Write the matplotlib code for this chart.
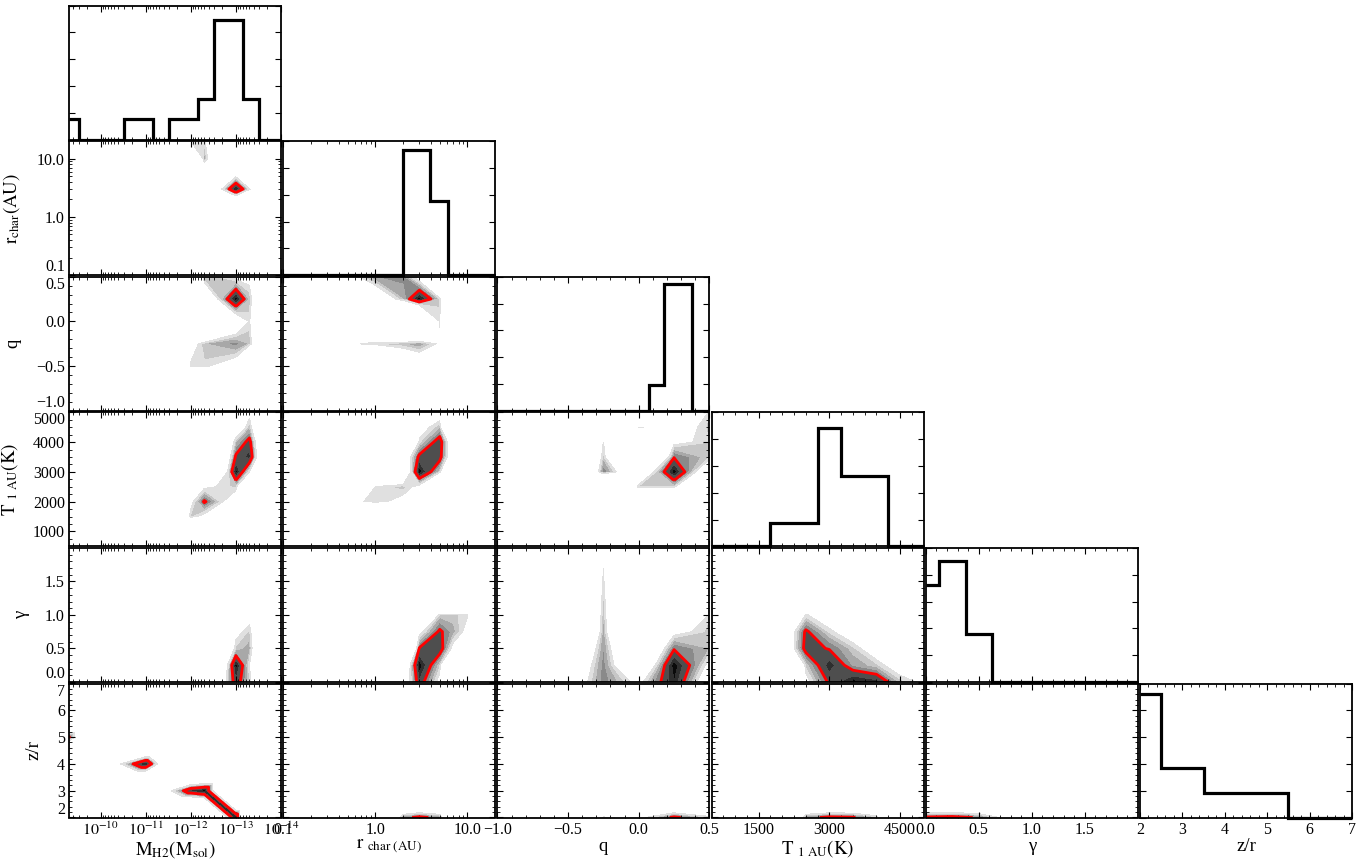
import numpy as np
import matplotlib.pyplot as plt
from matplotlib.tri import Triangulation

plt.rcParams['font.family'] = 'serif'
plt.rcParams['font.serif'] = ['Liberation Serif', 'DejaVu Serif']
plt.rcParams['mathtext.fontset'] = 'stix'

# grid nodes of the model fit, one list per parameter
mass_nodes = [1e-14, 5e-14, 1e-13, 5e-13, 1e-12, 5e-12, 1e-11, 5e-11, 1e-10, 5e-10]
rchar_nodes = [0.1, 0.3, 0.5, 0.7, 1.0, 2.0, 3.0, 5.0, 7.0, 10.0, 20.0]
q_nodes = [-1.0, -0.75, -0.5, -0.25, 0.0, 0.25, 0.5]
temp_nodes = [500, 1000, 1500, 2000, 2500, 3000, 3500, 4000, 4500, 5000]
gamma_nodes = [0.0, 0.25, 0.5, 0.75, 1.0, 1.25, 1.5, 1.75, 2.0]
zr_nodes = [2, 3, 4, 5, 6, 7]

# marginal histograms (bin edges, heights as fraction of the panel)
mass_edges = [5e-10, 3e-10, 3e-11, 7e-12, 3e-12, 7e-13, 3e-13, 7e-14, 3e-14, 1e-14]
mass_hist = [0.15, 0.0, 0.15, 0.0, 0.15, 0.30, 0.89, 0.30, 0.0]
rchar_edges = [0.1, 2.0, 3.9, 6.2, 20.0]
rchar_hist = [0.0, 0.93, 0.556, 0.0]
q_edges = [-1.0, 0.07, 0.18, 0.38, 0.5]
q_hist = [0.0, 0.195, 0.947, 0.0]
temp_edges = [500, 1750, 2750, 3250, 4250, 5000]
temp_hist = [0.0, 0.175, 0.88, 0.526, 0.0]
gamma_edges = [0.0, 0.125, 0.375, 0.625, 2.0]
gamma_hist = [0.72, 0.90, 0.36, 0.0]
zr_edges = [2, 2.5, 3.5, 5.5, 7]
zr_hist = [0.92, 0.366, 0.184, 0.0]

# delta chi^2 at grid nodes of each pair (x node, y node, value); all other nodes are FAR
FAR = 30.0
rchar_vs_mass = [(1e-13, 3.0, 0.0), (5e-13, 3.0, 18.0), (5e-14, 3.0, 7.5), (1e-13, 5.0, 8.5),
                 (1e-13, 2.0, 12.0), (5e-13, 10.0, 5.5), (5e-13, 20.0, 7.5), (1e-12, 20.0, 7.8),
                 (5e-13, 7.0, 12.0)]
q_vs_mass = [(1e-13, 0.25, 0.0), (5e-13, 0.25, 14.0), (5e-14, 0.25, 6.5), (1e-13, 0.5, 9.0),
             (5e-13, 0.5, 6.0), (1e-13, 0.0, 12.0), (5e-14, 0.0, 7.8), (5e-14, 0.5, 9.0),
             (1e-13, -0.25, 5.0), (5e-13, -0.25, 6.5), (5e-14, -0.25, 6.5), (1e-12, -0.5, 7.5),
             (5e-13, -0.5, 7.6), (1e-12, -0.25, 10.0), (1e-13, -0.5, 10.0)]
temp_vs_mass = [(1e-13, 3000, 0.0), (5e-14, 3500, 1.5), (5e-14, 4000, 3.0), (1e-13, 3500, 3.5),
                (5e-14, 3000, 8.0), (1e-13, 4000, 6.5), (5e-14, 4500, 6.5), (1e-13, 4500, 12.0),
                (5e-14, 5000, 9.0), (1e-13, 2500, 7.0), (5e-13, 2500, 8.6), (1e-13, 2000, 11.0),
                (5e-13, 2000, 3.6), (1e-12, 2000, 9.0), (5e-13, 1500, 9.0), (1e-12, 1500, 7.0)]
gamma_vs_mass = [(1e-13, 0.25, 0.0), (1e-13, 0.0, 2.5), (1e-13, 0.5, 7.0), (1e-13, 0.75, 9.0),
                 (5e-14, 0.25, 8.0), (5e-14, 0.5, 6.0), (5e-14, 0.75, 7.0), (5e-14, 1.0, 9.5),
                 (5e-14, 0.0, 7.0), (5e-13, 0.0, 20.0)]
zr_vs_mass = [(5e-10, 5, 3.7), (1e-11, 4, 0.0), (5e-12, 4, 9.0), (5e-11, 4, 10.0),
              (1e-12, 3, 1.5), (5e-12, 3, 12.0), (5e-13, 3, 0.0), (1e-13, 2, 0.0)]
zr_vs_mass_links = [(1e-13, 2)]  # cells whose rising diagonal joins the minima
q_vs_rchar = [(3.0, 0.25, 0.0), (2.0, 0.25, 6.5), (5.0, 0.25, 7.0), (3.0, 0.5, 10.0),
              (2.0, 0.5, 5.0), (1.0, 0.5, 5.5), (0.7, 0.5, 7.0), (0.5, 0.5, 9.0),
              (1.0, 0.25, 12.0), (5.0, 0.0, 7.8), (3.0, -0.25, 5.5), (2.0, -0.25, 6.5),
              (1.0, -0.25, 7.0), (0.7, -0.25, 7.6), (5.0, -0.25, 8.5), (3.0, -0.5, 12.0),
              (2.0, -0.5, 14.0)]
temp_vs_rchar = [(3.0, 3000, 0.0), (3.0, 3500, 3.3), (5.0, 3500, 3.0), (5.0, 4000, 2.5),
                 (5.0, 4500, 6.5), (5.0, 3000, 7.0), (3.0, 2500, 9.0), (2.0, 3000, 15.0),
                 (3.0, 4000, 7.5), (2.0, 3500, 12.0), (7.0, 4000, 12.0), (7.0, 3500, 12.0),
                 (5.0, 5000, 10.0), (3.0, 4500, 9.5), (2.0, 2500, 6.8), (1.0, 2000, 7.2),
                 (1.0, 2500, 7.8), (2.0, 2000, 9.0), (0.7, 2000, 8.2)]
gamma_vs_rchar = [(3.0, 0.25, 0.0), (3.0, 0.0, 2.5), (3.0, 0.5, 3.8), (5.0, 0.5, 2.5),
                  (5.0, 0.75, 3.5), (5.0, 0.25, 7.0), (2.0, 0.25, 14.0), (2.0, 0.0, 12.0),
                  (5.0, 1.0, 7.0), (7.0, 0.75, 6.0), (7.0, 1.0, 7.0), (10.0, 1.0, 7.8),
                  (3.0, 0.75, 9.0), (5.0, 0.0, 9.0), (7.0, 0.5, 9.0), (10.0, 0.75, 9.0)]
zr_vs_rchar = [(3.0, 2, 3.2), (2.0, 2, 5.0), (5.0, 2, 5.0)]
temp_vs_q = [(0.25, 3000, 0.0), (0.25, 3500, 4.2), (0.25, 2500, 7.0), (0.0, 3000, 14.0),
             (0.5, 3000, 13.0), (0.0, 2500, 7.0), (0.5, 3500, 7.2), (0.5, 4000, 7.3),
             (0.5, 4500, 7.0), (0.5, 5000, 7.2), (0.25, 4000, 8.8), (0.25, 4500, 10.0),
             (-0.25, 3000, 4.5), (-0.25, 3500, 6.8), (-0.25, 4000, 7.9), (0.0, 4500, 7.7)]
gamma_vs_q = [(-0.25, 0.0, 4.8), (-0.25, 0.25, 5.0), (-0.25, 0.5, 5.4), (-0.25, 0.75, 5.8),
              (-0.25, 1.0, 6.4), (-0.25, 1.25, 7.0), (-0.25, 1.5, 7.6), (-0.25, 1.75, 8.1),
              (-0.5, 0.0, 12.0), (-0.5, 0.25, 14.0), (-0.5, 0.5, 18.0), (0.0, 0.5, 18.0),
              (0.0, 0.0, 9.0), (0.25, 0.25, 0.0), (0.25, 0.0, 1.0), (0.25, 0.5, 4.3),
              (0.0, 0.25, 15.0), (0.5, 0.25, 9.0), (0.5, 0.0, 12.0), (0.5, 0.5, 6.5),
              (0.5, 0.75, 7.0), (0.5, 1.0, 7.4), (0.5, 1.25, 7.6), (0.5, 1.5, 7.8),
              (0.25, 0.75, 9.0)]
zr_vs_q = [(-0.25, 2, 7.5), (0.0, 2, 9.0), (0.25, 2, 3.3), (0.5, 2, 7.0)]
gamma_vs_temp = [(2500, 0.75, 3.5), (2500, 0.5, 3.0), (2500, 0.25, 7.0), (2500, 0.0, 9.0),
                 (2500, 1.0, 7.8), (2000, 0.75, 13.0), (2000, 0.5, 13.0), (3000, 0.0, 3.5),
                 (3000, 0.25, 1.2), (3000, 0.5, 4.2), (3000, 0.75, 7.5), (3000, 1.0, 10.0),
                 (3500, 0.0, 0.3), (3500, 0.25, 5.6), (3500, 0.5, 7.0), (3500, 0.75, 10.0),
                 (4000, 0.0, 1.5), (4000, 0.25, 7.0), (4000, 0.5, 10.0), (4500, 0.0, 6.7),
                 (4500, 0.25, 10.0), (5000, 0.0, 8.6)]
zr_vs_temp = [(3000, 2, 3.3), (3500, 2, 3.7), (2500, 2, 5.0), (4000, 2, 6.5)]
zr_vs_gamma = [(0.0, 2, 3.5), (0.25, 2, 3.0), (0.5, 2, 4.3), (0.75, 2, 9.0)]

levels = [-1, 1, 2.2, 4, 5.5, 6.5, 7.3, 8]
fills = ['#0a0a0a', '#2e2e2e', '#4e4e4e', '#8a8a8a', '#a8a8a8', '#c6c6c6', '#e0e0e0']
red_level = 4


def log_minor(lo, hi):
    out = []
    for n in range(-15, 3):
        for k in range(2, 10):
            v = np.log10(k) + n
            if min(lo, hi) < v < max(lo, hi):
                out.append(v)
    return out


M = u'\u2212'
cfg = {
    'mass': dict(nodes=mass_nodes, tf=np.log10, lim=(np.log10(5e-10), -14.0),
                 xt=[-10, -11, -12, -13, -14],
                 xl=[r'$10^{-10}$', r'$10^{-11}$', r'$10^{-12}$', r'$10^{-13}$', r'$10^{-14}$'],
                 minor=log_minor(-14, np.log10(5e-10)),
                 xlabel=r'$\mathrm{M_{H2}(M_{sol})}$'),
    'rchar': dict(nodes=rchar_nodes, tf=np.log10, lim=(-1.0, np.log10(20.0)),
                  xt=[-1, 0, 1], xl=['0.1', '1.0', '10.0'],
                  minor=log_minor(-1, np.log10(20.0)),
                  xlabel=r'$\mathrm{r}\ {}_{\mathrm{char\ (AU)}}$',
                  ylabel=r'$\mathrm{r_{char}(AU)}$', ylx=22),
    'q': dict(nodes=q_nodes, tf=np.asarray, lim=(-1.0, 0.5),
              xt=[-1.0, -0.5, 0.0, 0.5], xl=[M + '1.0', M + '0.5', '0.0', '0.5'],
              minor=list(np.arange(-0.9, 0.45, 0.1)), xlabel='q', ylabel='q', ylx=21),
    'temp': dict(nodes=temp_nodes, tf=np.asarray, lim=(500, 5000),
                 xt=[1500, 3000, 4500], xl=['1500', '3000', '4500'],
                 yt=[1000, 2000, 3000, 4000, 5000], yl=['1000', '2000', '3000', '4000', '5000'],
                 minor=list(np.arange(750, 5000, 250)),
                 xlabel=r'$\mathrm{T}\ {}_{\mathrm{1\ AU}}\mathrm{(K)}$',
                 ylabel=r'$\mathrm{T}\ {}_{\mathrm{1\ AU}}\mathrm{(K)}$', ylx=20),
    'gamma': dict(nodes=gamma_nodes, tf=np.asarray, lim=(0.0, 2.0),
                  xt=[0.0, 0.5, 1.0, 1.5], xl=['0.0', '0.5', '1.0', '1.5'],
                  minor=list(np.arange(0.1, 2.0, 0.1)), xlabel=u'\u03b3', ylabel=u'\u03b3',
                  ylx=30),
    'zr': dict(nodes=zr_nodes, tf=np.asarray, lim=(2, 7),
               xt=[2, 3, 4, 5, 6, 7], xl=['2', '3', '4', '5', '6', '7'],
               minor=list(np.arange(2.2, 7.0, 0.2)), xlabel='z/r', ylabel='z/r', ylx=42),
}
params = ['mass', 'rchar', 'q', 'temp', 'gamma', 'zr']
hists = {'mass': (mass_edges, mass_hist), 'rchar': (rchar_edges, rchar_hist),
         'q': (q_edges, q_hist), 'temp': (temp_edges, temp_hist),
         'gamma': (gamma_edges, gamma_hist), 'zr': (zr_edges, zr_hist)}
pairs = {(0, 1): rchar_vs_mass, (0, 2): q_vs_mass, (0, 3): temp_vs_mass,
         (0, 4): gamma_vs_mass, (0, 5): zr_vs_mass,
         (1, 2): q_vs_rchar, (1, 3): temp_vs_rchar, (1, 4): gamma_vs_rchar, (1, 5): zr_vs_rchar,
         (2, 3): temp_vs_q, (2, 4): gamma_vs_q, (2, 5): zr_vs_q,
         (3, 4): gamma_vs_temp, (3, 5): zr_vs_temp, (4, 5): zr_vs_gamma}
links = {(0, 5): zr_vs_mass_links}

TICK_FS = 11.5
LABEL_FS = 13.5
W, H = 1367, 859
col_left = [69 + 214.2 * i for i in range(6)]
row_top = [5.5 + 135.6 * j for j in range(6)]
pw, ph = 212, 134


def grid_triangles(nx, ny, flipped):
    tris = []
    for j in range(ny - 1):
        for i in range(nx - 1):
            a, b = j * nx + i, j * nx + i + 1
            d, c = (j + 1) * nx + i, (j + 1) * nx + i + 1
            if (i, j) in flipped:
                tris += [[a, b, c], [a, c, d]]
            else:
                tris += [[a, b, d], [b, c, d]]
    return tris


def draw_pair(ax, xk, yk, cells, link_nodes=()):
    xs, ys = cfg[xk]['nodes'], cfg[yk]['nodes']
    Z = np.full((len(ys), len(xs)), FAR)
    for xv, yv, d in cells:
        Z[ys.index(yv), xs.index(xv)] = d
    X = cfg[xk]['tf'](np.array(xs, dtype=float))
    Y = cfg[yk]['tf'](np.array(ys, dtype=float))
    if link_nodes:
        flipped = {(xs.index(xv), ys.index(yv)) for xv, yv in link_nodes}
        XX, YY = np.meshgrid(X, Y)
        tri = Triangulation(XX.ravel(), YY.ravel(), grid_triangles(len(X), len(Y), flipped))
        ax.tricontourf(tri, Z.ravel(), levels=levels, colors=fills)
        ax.tricontour(tri, Z.ravel(), levels=[red_level], colors='red', linewidths=2.0)
    else:
        ax.contourf(X, Y, Z, levels=levels, colors=fills)
        ax.contour(X, Y, Z, levels=[red_level], colors='red', linewidths=2.0)


def draw_hist(ax, key, edges, heights):
    e = cfg[key]['tf'](np.array(edges, dtype=float))
    h = np.array(heights)
    if e[0] > e[-1]:
        e, h = e[::-1], h[::-1]
    ax.stairs(h, e, color='k', linewidth=2.3, baseline=None, clip_on=False)
    ax.set_ylim(0, 1)
    ax.set_yticks(np.arange(0, 1.01, 0.2))
    ax.tick_params(labelleft=False)


def style_x(ax, key, show):
    c = cfg[key]
    ax.set_xlim(*c['lim'])
    ax.set_xticks(c['xt'])
    ax.set_xticks(c['minor'], minor=True)
    if show:
        ax.set_xticklabels(c['xl'], fontsize=TICK_FS)
        ax.set_xlabel(c['xlabel'], fontsize=LABEL_FS, labelpad=0)
    else:
        ax.tick_params(labelbottom=False)


def style_y(ax, key, show):
    c = cfg[key]
    ax.set_ylim(*c['lim'])
    yt = c.get('yt', c['xt'])
    yl = c.get('yl', c['xl'])
    ax.set_yticks(yt)
    ax.set_yticks(c['minor'], minor=True)
    if show:
        ax.set_yticklabels(yl, fontsize=TICK_FS)
        lo, hi = min(c['lim']), max(c['lim'])
        for lab, t in zip(ax.get_yticklabels(), yt):
            if np.isclose(t, lo):
                lab.set_va('bottom')
            elif np.isclose(t, hi):
                lab.set_va('top')
        ax.set_ylabel(c['ylabel'], fontsize=LABEL_FS)
        ax.yaxis.set_label_coords((c['ylx'] - col_left[0]) / pw, 0.5)
    else:
        ax.tick_params(labelleft=False)


fig = plt.figure(figsize=(W / 100, H / 100), dpi=100)

for j in range(6):
    for i in range(j + 1):
        ax = fig.add_axes([col_left[i] / W, 1 - (row_top[j] + ph) / H, pw / W, ph / H])
        for s in ax.spines.values():
            s.set_linewidth(1.3)
        ax.tick_params(which='both', direction='in', top=True, right=True)
        ax.tick_params(which='major', length=4.5, width=0.8, pad=3)
        ax.tick_params(which='minor', length=2.2, width=0.6)
        xk, yk = params[i], params[j]
        if i == j:
            draw_hist(ax, xk, *hists[xk])
            style_x(ax, xk, j == 5)
        else:
            draw_pair(ax, xk, yk, pairs[(i, j)], links.get((i, j), ()))
            style_x(ax, xk, j == 5)
            style_y(ax, yk, i == 0)

fig.savefig('out.png', dpi=100)
